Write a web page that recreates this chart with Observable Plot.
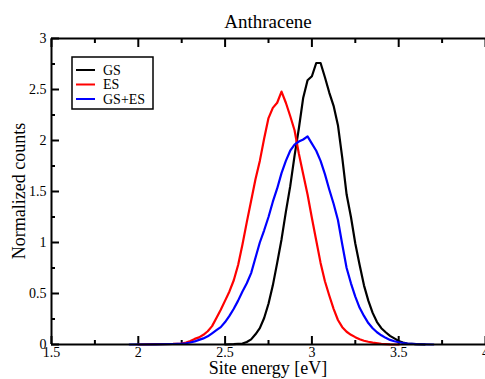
<!DOCTYPE html>
<html><head><meta charset="utf-8">
<script src="https://cdn.jsdelivr.net/npm/d3@7"></script>
<script src="https://cdn.jsdelivr.net/npm/@observablehq/plot@0.6"></script>
<style>body{margin:0;background:#fff;overflow:hidden} svg{display:block}</style>
</head><body><div id="chart"></div>
<script>
const title = "Anthracene";
const xLabel = "Site energy [eV]";
const yLabel = "Normalized counts";
const seriesNames = ["GS", "ES", "GS+ES"];
const seriesColors = ["#000000", "#ff0000", "#0000ff"];
const xTicks = [1.5, 2, 2.5, 3, 3.5, 4];
const xMinorTicks = [1.75, 2.25, 2.75, 3.25, 3.75];
const yTicks = [0, 0.5, 1, 1.5, 2, 2.5, 3];
const yMinorTicks = [0.25, 0.75, 1.25, 1.75, 2.25, 2.75];

const gsEnergy = [2.50,2.55,2.60,2.625,2.65,2.675,2.70,2.725,2.75,2.775,2.80,2.825,2.85,2.875,2.90,2.925,2.95,2.975,3.00,3.025,3.05,3.075,3.10,3.125,3.15,3.175,3.20,3.225,3.25,3.275,3.30,3.325,3.35,3.375,3.40,3.425,3.45,3.475,3.50,3.525,3.55,3.60,3.65];
const gsCounts = [0,0.003,0.01,0.025,0.05,0.10,0.16,0.26,0.40,0.58,0.80,1.03,1.30,1.55,1.85,2.12,2.42,2.59,2.63,2.76,2.76,2.62,2.47,2.34,2.15,1.83,1.47,1.25,0.99,0.78,0.58,0.43,0.31,0.22,0.16,0.12,0.085,0.06,0.035,0.02,0.01,0.003,0];

const esEnergy = [2.00,2.10,2.20,2.25,2.275,2.30,2.325,2.35,2.375,2.40,2.425,2.45,2.475,2.50,2.525,2.55,2.575,2.60,2.625,2.65,2.675,2.70,2.725,2.75,2.775,2.80,2.825,2.85,2.875,2.90,2.925,2.95,2.975,3.00,3.025,3.05,3.075,3.10,3.125,3.15,3.175,3.20,3.225,3.25,3.275,3.30,3.325,3.35,3.40,3.45,3.50];
const esCounts = [0,0.003,0.006,0.01,0.02,0.035,0.055,0.07,0.095,0.13,0.18,0.26,0.34,0.43,0.52,0.63,0.78,0.98,1.20,1.41,1.62,1.80,2.02,2.22,2.32,2.37,2.48,2.37,2.24,2.10,1.87,1.67,1.47,1.24,1.02,0.80,0.62,0.48,0.35,0.24,0.17,0.125,0.095,0.072,0.052,0.037,0.027,0.018,0.007,0.002,0];

const bothEnergy = [1.95,2.10,2.20,2.25,2.275,2.30,2.325,2.35,2.375,2.40,2.425,2.45,2.475,2.50,2.525,2.55,2.575,2.60,2.625,2.65,2.675,2.70,2.725,2.75,2.775,2.80,2.825,2.85,2.875,2.90,2.925,2.95,2.975,3.00,3.025,3.05,3.075,3.10,3.125,3.15,3.175,3.20,3.225,3.25,3.275,3.30,3.325,3.35,3.375,3.40,3.425,3.45,3.475,3.50,3.525,3.55,3.60,3.70];
const bothCounts = [0,0.002,0.005,0.008,0.012,0.02,0.03,0.045,0.06,0.08,0.11,0.14,0.17,0.22,0.28,0.35,0.43,0.52,0.60,0.70,0.85,1.00,1.12,1.25,1.40,1.53,1.68,1.80,1.90,1.96,1.99,2.01,2.04,1.97,1.90,1.80,1.67,1.52,1.38,1.22,0.98,0.75,0.60,0.47,0.36,0.28,0.21,0.16,0.12,0.09,0.065,0.045,0.032,0.022,0.015,0.01,0.004,0];

const seriesData = [[gsEnergy, gsCounts], [esEnergy, esCounts], [bothEnergy, bothCounts]];
const rows = seriesData.flatMap(([xs, ys], i) => xs.map((e, j) => ({series: seriesNames[i], energy: e, count: ys[j]})));

const font = "'Liberation Serif', 'Times New Roman', serif";
const fmt = d => String(d);

const plot = Plot.plot({
  width: 485, height: 379,
  marginLeft: 51, marginRight: 0, marginTop: 38, marginBottom: 35,
  style: {fontFamily: font, background: "white", color: "black", overflow: "visible"},
  x: {domain: [1.5, 4]},
  y: {domain: [0, 3]},
  color: {domain: seriesNames, range: seriesColors},
  marks: [
    Plot.axisX({anchor: "bottom", ticks: xTicks, tickSize: 0, tickPadding: 3, fontSize: 14, tickFormat: fmt, label: null}),
    Plot.axisX({anchor: "bottom", ticks: xTicks, tickSize: -8, fill: "none", label: null, strokeWidth: 2}),
    Plot.axisX({anchor: "bottom", ticks: xMinorTicks, tickSize: -4, fill: "none", label: null, strokeWidth: 2}),
    Plot.axisX({anchor: "top", ticks: xTicks, tickSize: -8, fill: "none", label: null, strokeWidth: 2}),
    Plot.axisX({anchor: "top", ticks: xMinorTicks, tickSize: -4, fill: "none", label: null, strokeWidth: 2}),
    Plot.axisY({anchor: "left", ticks: yTicks, tickSize: 0, tickPadding: 5, fontSize: 14, tickFormat: fmt, label: null}),
    Plot.axisY({anchor: "left", ticks: yTicks, tickSize: -8, fill: "none", label: null, strokeWidth: 2}),
    Plot.axisY({anchor: "left", ticks: yMinorTicks, tickSize: -4, fill: "none", label: null, strokeWidth: 2}),
    Plot.line(rows, {x: "energy", y: "count", z: "series", stroke: "series", strokeWidth: 2.2}),
    Plot.ruleX([1.5], {strokeWidth: 2}),
    Plot.ruleY([0, 3], {strokeWidth: 2})
  ]
});

const xs = plot.scale("x"), ys = plot.scale("y");
const cx = (xs.range[0] + xs.range[1]) / 2;
const cy = (ys.range[0] + ys.range[1]) / 2;
const svg = d3.select(plot);
svg.append("text").attr("x", cx).attr("y", 28).attr("text-anchor", "middle")
  .attr("font-family", font).attr("font-size", 19).attr("fill", "black").text(title);
svg.append("text").attr("x", cx).attr("y", 374).attr("text-anchor", "middle")
  .attr("font-family", font).attr("font-size", 18).attr("fill", "black").text(xLabel);
svg.append("text").attr("transform", `translate(25,${cy}) rotate(-90)`).attr("text-anchor", "middle")
  .attr("font-family", font).attr("font-size", 18).attr("fill", "black").text(yLabel);

const lg = svg.append("g");
lg.append("rect").attr("x", 72).attr("y", 57).attr("width", 81).attr("height", 52)
  .attr("fill", "white").attr("stroke", "black").attr("stroke-width", 1.5);
seriesNames.forEach((name, i) => {
  const y = 70 + i * 14.5;
  lg.append("line").attr("x1", 76).attr("x2", 95).attr("y1", y).attr("y2", y)
    .attr("stroke", seriesColors[i]).attr("stroke-width", 2);
  lg.append("text").attr("x", 103).attr("y", y).attr("dy", "0.35em").attr("text-anchor", "start")
    .attr("font-family", font).attr("font-size", 14).attr("fill", "black").text(name);
});

document.getElementById("chart").appendChild(plot);
</script>
</body></html>
